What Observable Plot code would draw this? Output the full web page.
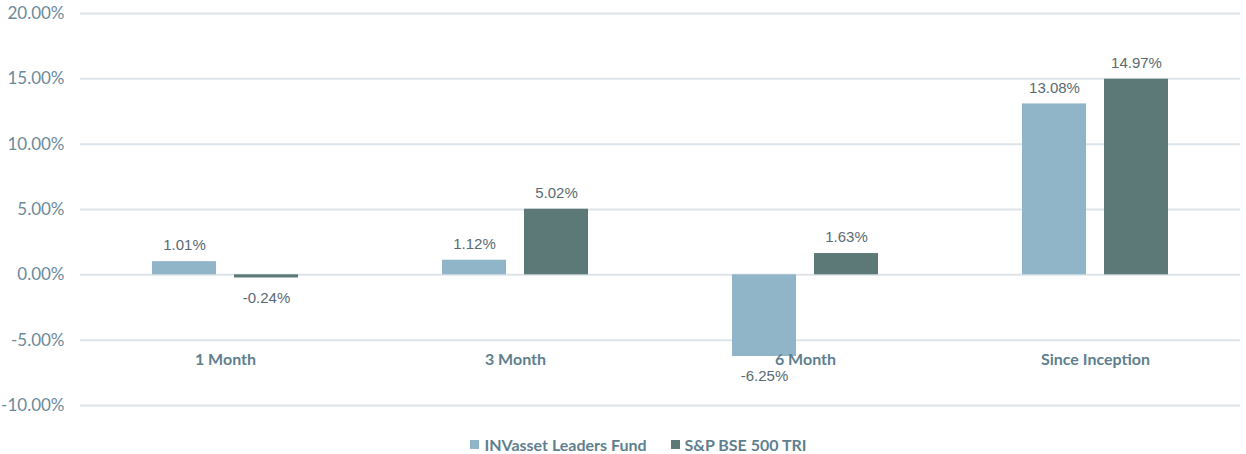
<!DOCTYPE html>
<html>
<head>
<meta charset="utf-8">
<script src="https://cdn.jsdelivr.net/npm/d3@7"></script>
<script src="https://cdn.jsdelivr.net/npm/@observablehq/plot@0.6"></script>
<style>
  html, body { margin: 0; padding: 0; background: #fff; }
  #chart svg { display: block; }
  #legend { display: flex; justify-content: center; align-items: center; height: 29px; padding-top: 5px; padding-left: 31px;
    font-family: Lato, sans-serif; font-weight: bold; font-size: 16px; color: #5f7f8f; }
  .item { display: flex; align-items: center; margin: 0 12px; }
  .sw { width: 9px; height: 9px; margin-right: 5px; display: inline-block; }
</style>
</head>
<body>
<div id="chart"></div>
<div id="legend"></div>
<script>
const categories = ["1 Month", "3 Month", "6 Month", "Since Inception"];
const series = ["INVasset Leaders Fund", "S&P BSE 500 TRI"];
const fundValues = [1.01, 1.12, -6.25, 13.08];
const indexValues = [-0.24, 5.02, 1.63, 14.97];
const yTicks = [-10, -5, 0, 5, 10, 15, 20];
const colors = ["#91b5c8", "#5c7977"];

const data = [];
categories.forEach((c, i) => {
  data.push({category: c, series: series[0], value: fundValues[i]});
  data.push({category: c, series: series[1], value: indexValues[i]});
});
const fmt = v => v.toFixed(2) + "%";

const chart = Plot.plot({
  width: 1246,
  height: 425,
  marginLeft: 80,
  marginRight: 6,
  marginTop: 13,
  marginBottom: 20,
  style: {background: "#fff"},
  fx: {domain: categories, padding: 0, axis: null, label: null},
  x: {domain: series, paddingInner: 0.217, paddingOuter: 0.856, axis: null, label: null},
  y: {domain: [-10, 20], label: null, axis: null},
  color: {domain: series, range: colors},
  marks: [
    Plot.gridY(yTicks, {stroke: "#dde4e9", strokeOpacity: 1, strokeWidth: 2}),
    Plot.axisY(yTicks, {tickSize: 0, tickPadding: 16, tickFormat: fmt, label: null,
      fontFamily: "Lato, sans-serif", fontSize: 17, fill: "#6b8a9a"}),
    Plot.barY(data, {fx: "category", x: "series", y: "value", fill: "series"}),
    Plot.text(categories, {fx: d => d, y: () => -6.5, text: d => d, fontWeight: "bold",
      fontFamily: "Lato, sans-serif", fontSize: 16, fill: "#5f7f8f"}),
    Plot.text(data.filter(d => d.value >= 0), {fx: "category", x: "series", y: "value",
      text: d => fmt(d.value), dy: -16, fontFamily: "'Liberation Sans', Arial, sans-serif",
      fontSize: 15, fill: "#5a6a72"}),
    Plot.text(data.filter(d => d.value < 0), {fx: "category", x: "series", y: "value",
      text: d => fmt(d.value), dy: 20, fontFamily: "'Liberation Sans', Arial, sans-serif",
      fontSize: 15, fill: "#5a6a72"})
  ]
});
document.getElementById("chart").appendChild(chart);

const legend = document.getElementById("legend");
series.forEach((s, i) => {
  const item = document.createElement("span");
  item.className = "item";
  const sw = document.createElement("span");
  sw.className = "sw";
  sw.style.background = colors[i];
  item.appendChild(sw);
  item.appendChild(document.createTextNode(s));
  legend.appendChild(item);
});
</script>
</body>
</html>
